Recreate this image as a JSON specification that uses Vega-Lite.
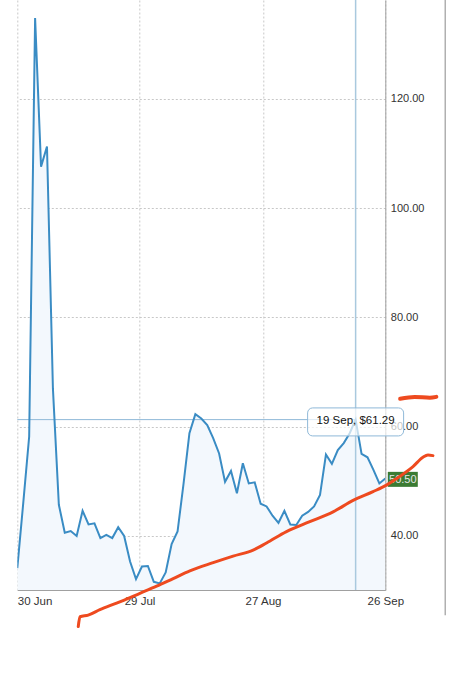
{
  "$schema": "https://vega.github.io/schema/vega-lite/v6.json",
  "width": 368,
  "height": 590,
  "autosize": {"type": "none"},
  "padding": {"left": 17.3, "top": 0, "right": 66.7, "bottom": 90},
  "background": "white",
  "config": {"view": {"stroke": null}, "font": "Liberation Sans"},
  "datasets": {
    "price": [
      {"i": 0, "v": 34.1}, {"i": 1, "v": 46.0}, {"i": 2, "v": 58.2}, {"i": 3, "v": 134.8},
      {"i": 4, "v": 107.6}, {"i": 5, "v": 111.3}, {"i": 6, "v": 67.0}, {"i": 7, "v": 45.7},
      {"i": 8, "v": 40.6}, {"i": 9, "v": 40.9}, {"i": 10, "v": 40.0}, {"i": 11, "v": 44.6},
      {"i": 12, "v": 42.1}, {"i": 13, "v": 42.3}, {"i": 14, "v": 39.6}, {"i": 15, "v": 40.2},
      {"i": 16, "v": 39.6}, {"i": 17, "v": 41.6}, {"i": 18, "v": 40.0}, {"i": 19, "v": 35.3},
      {"i": 20, "v": 32.1}, {"i": 21, "v": 34.4}, {"i": 22, "v": 34.5}, {"i": 23, "v": 31.6},
      {"i": 24, "v": 31.3}, {"i": 25, "v": 33.3}, {"i": 26, "v": 38.5}, {"i": 27, "v": 40.8},
      {"i": 28, "v": 49.5}, {"i": 29, "v": 58.8}, {"i": 30, "v": 62.3}, {"i": 31, "v": 61.5},
      {"i": 32, "v": 60.3}, {"i": 33, "v": 57.9}, {"i": 34, "v": 55.1}, {"i": 35, "v": 49.9},
      {"i": 36, "v": 51.9}, {"i": 37, "v": 47.8}, {"i": 38, "v": 53.3}, {"i": 39, "v": 49.6},
      {"i": 40, "v": 49.8}, {"i": 41, "v": 45.9}, {"i": 42, "v": 45.4}, {"i": 43, "v": 43.7},
      {"i": 44, "v": 42.4}, {"i": 45, "v": 44.6}, {"i": 46, "v": 42.1}, {"i": 47, "v": 42.0},
      {"i": 48, "v": 43.7}, {"i": 49, "v": 44.4}, {"i": 50, "v": 45.4}, {"i": 51, "v": 47.5},
      {"i": 52, "v": 54.9}, {"i": 53, "v": 53.2}, {"i": 54, "v": 55.7}, {"i": 55, "v": 57.0},
      {"i": 56, "v": 58.8}, {"i": 57, "v": 61.29}, {"i": 58, "v": 55.0}, {"i": 59, "v": 54.4},
      {"i": 60, "v": 52.1}, {"i": 61, "v": 49.6}, {"i": 62, "v": 50.5}
    ],
    "trend": [
      {"i": 10.27, "v": 23.4}, {"i": 10.56, "v": 25.2}, {"i": 11.95, "v": 25.5},
      {"i": 13.92, "v": 26.5}, {"i": 16.73, "v": 27.7}, {"i": 20.66, "v": 29.5},
      {"i": 23.47, "v": 30.8}, {"i": 26.26, "v": 32.2}, {"i": 29.07, "v": 33.6},
      {"i": 33.0, "v": 35.1}, {"i": 36.36, "v": 36.3}, {"i": 39.73, "v": 37.4},
      {"i": 41.99, "v": 38.7}, {"i": 45.35, "v": 40.8}, {"i": 49.28, "v": 42.6},
      {"i": 53.2, "v": 44.4}, {"i": 56.57, "v": 46.5}, {"i": 59.93, "v": 48.1},
      {"i": 62.19, "v": 49.3}, {"i": 64.43, "v": 50.9}, {"i": 66.67, "v": 52.7},
      {"i": 68.35, "v": 54.4}, {"i": 69.19, "v": 54.8}, {"i": 70.03, "v": 54.7}
    ],
    "scribble": [
      {"i": 64.5, "v": 65.1}, {"i": 66.95, "v": 65.45}, {"i": 69.5, "v": 65.3}, {"i": 70.6, "v": 65.45}
    ],
    "cross": [{"i0": 0, "i": 57, "v": 61.29, "label": "19 Sep, $61.29"}],
    "last": [{"i": 62, "v": 50.5, "label": "50.50"}],
    "edge": [{"i": 72.1, "top": 138.1, "bottom": 25.5}]
  },
  "layer": [
    {
      "data": {"name": "price"},
      "mark": {"type": "area", "color": "#f3f8fd", "clip": true},
      "encoding": {
        "x": {
          "field": "i", "type": "quantitative",
          "scale": {"domain": [0, 62], "nice": false, "zero": false},
          "axis": {
            "values": [0, 20.6, 41.4, 62],
            "labelExpr": "datum.value < 10 ? '30 Jun' : datum.value < 30 ? '29 Jul' : datum.value < 50 ? '27 Aug' : '26 Sep'",
            "title": null, "grid": true, "gridDash": [2, 2], "gridColor": "#c8c8c8",
            "domainColor": "#a0a0a0", "ticks": false, "labelPadding": 5,
            "labelFontSize": 11.5, "labelColor": "#333333",
            "labelAlign": {"condition": {"test": "datum.value < 10", "value": "left"}, "value": "center"},
            "labelFlush": false, "labelOverlap": false, "labelBound": false, "zindex": 0
          }
        },
        "y": {
          "field": "v", "type": "quantitative",
          "scale": {"domain": [30.1, 138.1], "nice": false, "zero": false},
          "axis": {
            "orient": "right", "values": [40, 60, 80, 100, 120], "format": ".2f",
            "title": null, "grid": true, "gridDash": [2, 2], "gridColor": "#c8c8c8",
            "domainColor": "#a0a0a0", "ticks": false, "labelPadding": 5,
            "labelFontSize": 11, "labelColor": "#333333", "labelOverlap": false,
            "labelBound": false, "zindex": 0
          }
        }
      }
    },
    {
      "data": {"name": "cross"},
      "mark": {"type": "rule", "color": "#a9c9de", "strokeWidth": 1.5},
      "encoding": {"x": {"field": "i", "type": "quantitative"}}
    },
    {
      "data": {"name": "cross"},
      "mark": {"type": "rule", "color": "#8fb9d8", "strokeWidth": 1},
      "encoding": {
        "x": {"field": "i0", "type": "quantitative"},
        "x2": {"field": "i"},
        "y": {"field": "v", "type": "quantitative"}
      }
    },
    {
      "data": {"name": "price"},
      "mark": {"type": "line", "color": "#3a8cc4", "strokeWidth": 2, "clip": true},
      "encoding": {
        "x": {"field": "i", "type": "quantitative"},
        "y": {"field": "v", "type": "quantitative"}
      }
    },
    {
      "data": {"name": "cross"},
      "mark": {"type": "rect", "width": 96, "height": 28, "yOffset": 2.3, "cornerRadius": 5, "fill": "white", "fillOpacity": 0.7, "stroke": "#8fb9d8", "strokeWidth": 1, "clip": false},
      "encoding": {
        "x": {"field": "i", "type": "quantitative"},
        "y": {"field": "v", "type": "quantitative"}
      }
    },
    {
      "data": {"name": "cross"},
      "mark": {"type": "text", "fontSize": 11.5, "color": "#111111", "align": "center", "baseline": "middle", "dy": 1.5, "clip": false},
      "encoding": {
        "x": {"field": "i", "type": "quantitative"},
        "y": {"field": "v", "type": "quantitative"},
        "text": {"field": "label"}
      }
    },
    {
      "data": {"name": "last"},
      "mark": {"type": "rect", "width": 30, "height": 15, "xOffset": 17.5, "yOffset": 0.8, "fill": "#3b7b33", "clip": false},
      "encoding": {
        "x": {"field": "i", "type": "quantitative"},
        "y": {"field": "v", "type": "quantitative"}
      }
    },
    {
      "data": {"name": "last"},
      "mark": {"type": "text", "fontSize": 11, "color": "#e6e6e6", "align": "center", "baseline": "middle", "dx": 17.5, "dy": 1, "clip": false},
      "encoding": {
        "x": {"field": "i", "type": "quantitative"},
        "y": {"field": "v", "type": "quantitative"},
        "text": {"field": "label"}
      }
    },
    {
      "data": {"name": "trend"},
      "mark": {"type": "line", "color": "#ee4a1f", "strokeWidth": 3, "strokeCap": "round", "strokeJoin": "round", "interpolate": "monotone", "clip": false},
      "encoding": {
        "x": {"field": "i", "type": "quantitative"},
        "y": {"field": "v", "type": "quantitative"}
      }
    },
    {
      "data": {"name": "scribble"},
      "mark": {"type": "line", "color": "#ee4a1f", "strokeWidth": 4, "strokeCap": "round", "interpolate": "monotone", "clip": false},
      "encoding": {
        "x": {"field": "i", "type": "quantitative"},
        "y": {"field": "v", "type": "quantitative"}
      }
    },
    {
      "data": {"name": "edge"},
      "mark": {"type": "rule", "color": "#b0b0b0", "strokeWidth": 1.5, "clip": false},
      "encoding": {
        "x": {"field": "i", "type": "quantitative"},
        "y": {"field": "top", "type": "quantitative"},
        "y2": {"field": "bottom"}
      }
    }
  ]
}
